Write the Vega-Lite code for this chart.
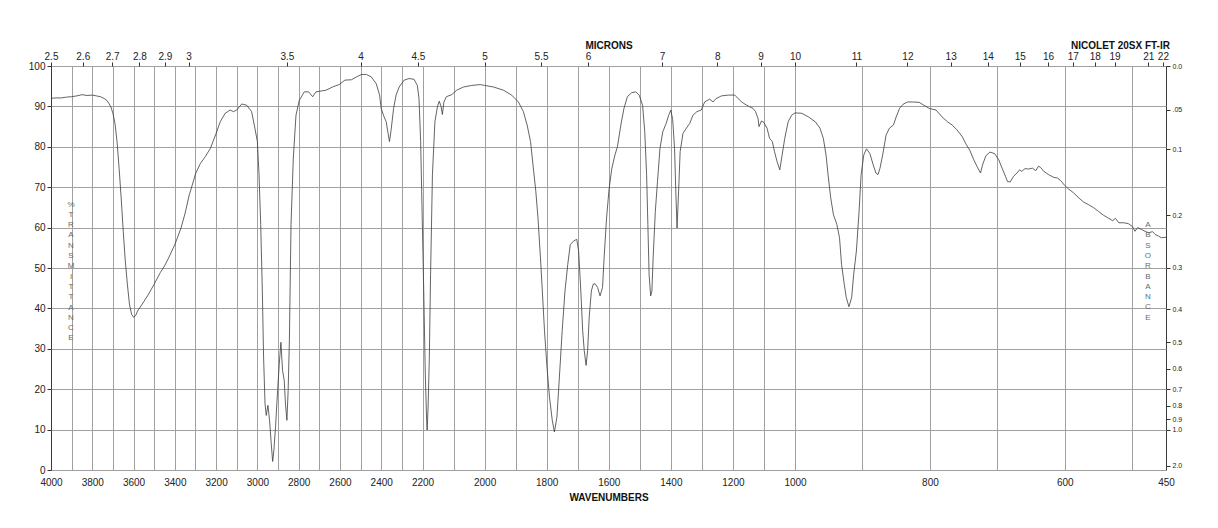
{
 "$schema": "https://vega.github.io/schema/vega-lite/v6.json",
 "width": 1115, "height": 404,
 "autosize": {"type": "none"},
 "padding": {"left": 51, "top": 66, "right": 52, "bottom": 58},
 "background": "white",
 "config": {"view": {"stroke": "#3a3a3a", "strokeWidth": 1}, "font": "Liberation Sans"},
 "data": {"values": [
{"wavenumber":4000,"transmittance":92.0},{"wavenumber":3975,"transmittance":92.1},{"wavenumber":3950,"transmittance":92.1},{"wavenumber":3925,"transmittance":92.3},{"wavenumber":3900,"transmittance":92.4},{"wavenumber":3875,"transmittance":92.6},{"wavenumber":3850,"transmittance":92.9},{"wavenumber":3825,"transmittance":92.7},{"wavenumber":3800,"transmittance":92.8},{"wavenumber":3780,"transmittance":92.6},{"wavenumber":3760,"transmittance":92.4},{"wavenumber":3740,"transmittance":91.9},{"wavenumber":3730,"transmittance":91.5},{"wavenumber":3720,"transmittance":90.8},{"wavenumber":3710,"transmittance":89.9},{"wavenumber":3700,"transmittance":88.3},{"wavenumber":3690,"transmittance":85.8},{"wavenumber":3680,"transmittance":81.3},{"wavenumber":3670,"transmittance":74.7},{"wavenumber":3660,"transmittance":67.3},{"wavenumber":3650,"transmittance":59.1},{"wavenumber":3640,"transmittance":51.7},{"wavenumber":3630,"transmittance":46.0},{"wavenumber":3620,"transmittance":41.1},{"wavenumber":3610,"transmittance":38.6},{"wavenumber":3600,"transmittance":37.8},{"wavenumber":3590,"transmittance":38.2},{"wavenumber":3580,"transmittance":39.4},{"wavenumber":3560,"transmittance":40.9},{"wavenumber":3530,"transmittance":43.3},{"wavenumber":3500,"transmittance":46.0},{"wavenumber":3470,"transmittance":48.9},{"wavenumber":3450,"transmittance":50.5},{"wavenumber":3430,"transmittance":52.5},{"wavenumber":3400,"transmittance":55.8},{"wavenumber":3370,"transmittance":59.9},{"wavenumber":3350,"transmittance":63.6},{"wavenumber":3330,"transmittance":68.1},{"wavenumber":3310,"transmittance":71.5},{"wavenumber":3300,"transmittance":73.3},{"wavenumber":3276,"transmittance":75.9},{"wavenumber":3252,"transmittance":77.6},{"wavenumber":3228,"transmittance":79.6},{"wavenumber":3200,"transmittance":83.3},{"wavenumber":3180,"transmittance":86.2},{"wavenumber":3156,"transmittance":88.3},{"wavenumber":3132,"transmittance":89.1},{"wavenumber":3116,"transmittance":88.7},{"wavenumber":3100,"transmittance":89.1},{"wavenumber":3076,"transmittance":90.6},{"wavenumber":3052,"transmittance":90.3},{"wavenumber":3028,"transmittance":88.7},{"wavenumber":3012,"transmittance":84.6},{"wavenumber":3000,"transmittance":81.3},{"wavenumber":2992,"transmittance":73.1},{"wavenumber":2984,"transmittance":60.8},{"wavenumber":2976,"transmittance":44.3},{"wavenumber":2970,"transmittance":27.9},{"wavenumber":2963,"transmittance":16.4},{"wavenumber":2957,"transmittance":13.5},{"wavenumber":2949,"transmittance":16.0},{"wavenumber":2941,"transmittance":12.3},{"wavenumber":2933,"transmittance":6.6},{"wavenumber":2926,"transmittance":2.1},{"wavenumber":2920,"transmittance":4.9},{"wavenumber":2912,"transmittance":10.7},{"wavenumber":2902,"transmittance":19.7},{"wavenumber":2894,"transmittance":26.3},{"wavenumber":2886,"transmittance":31.6},{"wavenumber":2878,"transmittance":24.6},{"wavenumber":2870,"transmittance":22.2},{"wavenumber":2864,"transmittance":16.4},{"wavenumber":2857,"transmittance":12.3},{"wavenumber":2851,"transmittance":19.7},{"wavenumber":2845,"transmittance":32.0},{"wavenumber":2837,"transmittance":60.8},{"wavenumber":2826,"transmittance":77.2},{"wavenumber":2813,"transmittance":87.8},{"wavenumber":2797,"transmittance":91.5},{"wavenumber":2773,"transmittance":93.6},{"wavenumber":2752,"transmittance":93.6},{"wavenumber":2732,"transmittance":92.4},{"wavenumber":2716,"transmittance":93.6},{"wavenumber":2692,"transmittance":93.8},{"wavenumber":2668,"transmittance":94.0},{"wavenumber":2636,"transmittance":94.8},{"wavenumber":2604,"transmittance":95.4},{"wavenumber":2576,"transmittance":96.5},{"wavenumber":2544,"transmittance":96.6},{"wavenumber":2520,"transmittance":97.3},{"wavenumber":2496,"transmittance":97.9},{"wavenumber":2472,"transmittance":97.9},{"wavenumber":2448,"transmittance":97.3},{"wavenumber":2424,"transmittance":95.6},{"wavenumber":2408,"transmittance":92.8},{"wavenumber":2400,"transmittance":89.5},{"wavenumber":2389,"transmittance":87.8},{"wavenumber":2376,"transmittance":86.2},{"wavenumber":2368,"transmittance":83.7},{"wavenumber":2360,"transmittance":81.3},{"wavenumber":2352,"transmittance":84.2},{"wavenumber":2340,"transmittance":89.5},{"wavenumber":2328,"transmittance":92.8},{"wavenumber":2313,"transmittance":94.8},{"wavenumber":2289,"transmittance":96.5},{"wavenumber":2265,"transmittance":96.9},{"wavenumber":2241,"transmittance":96.7},{"wavenumber":2225,"transmittance":95.2},{"wavenumber":2217,"transmittance":92.0},{"wavenumber":2209,"transmittance":81.3},{"wavenumber":2204,"transmittance":69.0},{"wavenumber":2196,"transmittance":44.3},{"wavenumber":2191,"transmittance":23.8},{"wavenumber":2187,"transmittance":13.1},{"wavenumber":2185,"transmittance":9.9},{"wavenumber":2182,"transmittance":15.6},{"wavenumber":2178,"transmittance":27.9},{"wavenumber":2174,"transmittance":48.4},{"wavenumber":2168,"transmittance":73.1},{"wavenumber":2160,"transmittance":86.2},{"wavenumber":2152,"transmittance":89.9},{"wavenumber":2146,"transmittance":91.3},{"wavenumber":2140,"transmittance":89.9},{"wavenumber":2136,"transmittance":88.0},{"wavenumber":2131,"transmittance":91.1},{"wavenumber":2123,"transmittance":92.4},{"wavenumber":2106,"transmittance":92.9},{"wavenumber":2090,"transmittance":94.0},{"wavenumber":2068,"transmittance":94.8},{"wavenumber":2041,"transmittance":95.2},{"wavenumber":2014,"transmittance":95.4},{"wavenumber":2000,"transmittance":95.2},{"wavenumber":1971,"transmittance":94.8},{"wavenumber":1939,"transmittance":94.0},{"wavenumber":1913,"transmittance":92.8},{"wavenumber":1891,"transmittance":91.1},{"wavenumber":1875,"transmittance":88.7},{"wavenumber":1863,"transmittance":85.4},{"wavenumber":1852,"transmittance":81.3},{"wavenumber":1844,"transmittance":75.5},{"wavenumber":1835,"transmittance":69.0},{"wavenumber":1828,"transmittance":62.4},{"wavenumber":1820,"transmittance":52.5},{"wavenumber":1814,"transmittance":44.3},{"wavenumber":1807,"transmittance":34.5},{"wavenumber":1799,"transmittance":25.5},{"wavenumber":1791,"transmittance":18.1},{"wavenumber":1782,"transmittance":12.3},{"wavenumber":1775,"transmittance":9.4},{"wavenumber":1767,"transmittance":13.1},{"wavenumber":1759,"transmittance":23.0},{"wavenumber":1750,"transmittance":34.5},{"wavenumber":1741,"transmittance":44.3},{"wavenumber":1732,"transmittance":50.9},{"wavenumber":1724,"transmittance":55.8},{"wavenumber":1713,"transmittance":56.7},{"wavenumber":1703,"transmittance":57.1},{"wavenumber":1697,"transmittance":54.2},{"wavenumber":1690,"transmittance":44.3},{"wavenumber":1684,"transmittance":34.5},{"wavenumber":1679,"transmittance":29.6},{"wavenumber":1673,"transmittance":25.9},{"wavenumber":1668,"transmittance":29.6},{"wavenumber":1663,"transmittance":37.8},{"wavenumber":1656,"transmittance":44.3},{"wavenumber":1650,"transmittance":46.0},{"wavenumber":1644,"transmittance":46.1},{"wavenumber":1636,"transmittance":45.2},{"wavenumber":1628,"transmittance":43.1},{"wavenumber":1620,"transmittance":45.2},{"wavenumber":1615,"transmittance":52.5},{"wavenumber":1607,"transmittance":62.4},{"wavenumber":1599,"transmittance":69.5},{"wavenumber":1590,"transmittance":74.7},{"wavenumber":1580,"transmittance":78.0},{"wavenumber":1572,"transmittance":80.0},{"wavenumber":1561,"transmittance":85.4},{"wavenumber":1551,"transmittance":89.5},{"wavenumber":1540,"transmittance":92.4},{"wavenumber":1526,"transmittance":93.4},{"wavenumber":1513,"transmittance":93.6},{"wavenumber":1502,"transmittance":92.8},{"wavenumber":1491,"transmittance":90.3},{"wavenumber":1484,"transmittance":83.7},{"wavenumber":1478,"transmittance":73.1},{"wavenumber":1474,"transmittance":60.8},{"wavenumber":1470,"transmittance":48.4},{"wavenumber":1465,"transmittance":43.1},{"wavenumber":1461,"transmittance":44.3},{"wavenumber":1457,"transmittance":52.5},{"wavenumber":1450,"transmittance":64.0},{"wavenumber":1443,"transmittance":71.4},{"wavenumber":1435,"transmittance":79.6},{"wavenumber":1426,"transmittance":83.7},{"wavenumber":1415,"transmittance":85.8},{"wavenumber":1407,"transmittance":87.8},{"wavenumber":1400,"transmittance":89.1},{"wavenumber":1394,"transmittance":86.7},{"wavenumber":1388,"transmittance":79.6},{"wavenumber":1384,"transmittance":69.0},{"wavenumber":1380,"transmittance":59.9},{"wavenumber":1375,"transmittance":69.0},{"wavenumber":1370,"transmittance":78.8},{"wavenumber":1361,"transmittance":83.3},{"wavenumber":1350,"transmittance":84.6},{"wavenumber":1339,"transmittance":85.8},{"wavenumber":1329,"transmittance":87.8},{"wavenumber":1316,"transmittance":88.7},{"wavenumber":1302,"transmittance":89.1},{"wavenumber":1291,"transmittance":91.1},{"wavenumber":1275,"transmittance":91.8},{"wavenumber":1264,"transmittance":91.1},{"wavenumber":1255,"transmittance":91.9},{"wavenumber":1237,"transmittance":92.6},{"wavenumber":1215,"transmittance":92.8},{"wavenumber":1194,"transmittance":92.8},{"wavenumber":1172,"transmittance":91.1},{"wavenumber":1156,"transmittance":90.3},{"wavenumber":1146,"transmittance":89.9},{"wavenumber":1135,"transmittance":89.5},{"wavenumber":1127,"transmittance":88.7},{"wavenumber":1119,"transmittance":87.0},{"wavenumber":1116,"transmittance":85.0},{"wavenumber":1108,"transmittance":86.4},{"wavenumber":1100,"transmittance":86.0},{"wavenumber":1090,"transmittance":84.6},{"wavenumber":1082,"transmittance":82.1},{"wavenumber":1073,"transmittance":81.3},{"wavenumber":1066,"transmittance":78.8},{"wavenumber":1058,"transmittance":76.4},{"wavenumber":1049,"transmittance":74.3},{"wavenumber":1043,"transmittance":77.2},{"wavenumber":1033,"transmittance":82.1},{"wavenumber":1022,"transmittance":86.2},{"wavenumber":1011,"transmittance":87.8},{"wavenumber":1000,"transmittance":88.4},{"wavenumber":990,"transmittance":88.3},{"wavenumber":980,"transmittance":87.4},{"wavenumber":970,"transmittance":86.2},{"wavenumber":963,"transmittance":84.6},{"wavenumber":958,"transmittance":82.1},{"wavenumber":954,"transmittance":78.0},{"wavenumber":951,"transmittance":73.1},{"wavenumber":947,"transmittance":67.3},{"wavenumber":943,"transmittance":63.2},{"wavenumber":938,"transmittance":60.8},{"wavenumber":934,"transmittance":57.5},{"wavenumber":931,"transmittance":50.9},{"wavenumber":927,"transmittance":46.0},{"wavenumber":924,"transmittance":42.7},{"wavenumber":920,"transmittance":40.4},{"wavenumber":916,"transmittance":42.7},{"wavenumber":913,"transmittance":48.4},{"wavenumber":909,"transmittance":54.2},{"wavenumber":905,"transmittance":64.0},{"wavenumber":902,"transmittance":73.1},{"wavenumber":898,"transmittance":78.0},{"wavenumber":894,"transmittance":79.5},{"wavenumber":889,"transmittance":78.3},{"wavenumber":884,"transmittance":75.5},{"wavenumber":880,"transmittance":73.5},{"wavenumber":877,"transmittance":73.1},{"wavenumber":874,"transmittance":74.7},{"wavenumber":870,"transmittance":78.0},{"wavenumber":865,"transmittance":82.9},{"wavenumber":860,"transmittance":84.6},{"wavenumber":854,"transmittance":85.4},{"wavenumber":850,"transmittance":87.4},{"wavenumber":845,"transmittance":89.5},{"wavenumber":840,"transmittance":90.5},{"wavenumber":833,"transmittance":91.1},{"wavenumber":826,"transmittance":91.1},{"wavenumber":816,"transmittance":91.0},{"wavenumber":809,"transmittance":90.3},{"wavenumber":801,"transmittance":89.5},{"wavenumber":791,"transmittance":89.1},{"wavenumber":782,"transmittance":87.4},{"wavenumber":774,"transmittance":86.2},{"wavenumber":767,"transmittance":85.4},{"wavenumber":760,"transmittance":84.2},{"wavenumber":752,"transmittance":82.5},{"wavenumber":746,"transmittance":80.5},{"wavenumber":741,"transmittance":79.2},{"wavenumber":735,"transmittance":76.8},{"wavenumber":730,"transmittance":75.1},{"wavenumber":725,"transmittance":73.5},{"wavenumber":722,"transmittance":75.5},{"wavenumber":717,"transmittance":77.8},{"wavenumber":711,"transmittance":78.7},{"wavenumber":704,"transmittance":78.3},{"wavenumber":698,"transmittance":76.8},{"wavenumber":693,"transmittance":74.7},{"wavenumber":688,"transmittance":72.7},{"wavenumber":685,"transmittance":71.4},{"wavenumber":681,"transmittance":71.3},{"wavenumber":676,"transmittance":72.7},{"wavenumber":671,"transmittance":73.5},{"wavenumber":667,"transmittance":74.3},{"wavenumber":664,"transmittance":73.9},{"wavenumber":659,"transmittance":74.6},{"wavenumber":654,"transmittance":74.5},{"wavenumber":648,"transmittance":74.7},{"wavenumber":643,"transmittance":74.1},{"wavenumber":639,"transmittance":75.2},{"wavenumber":636,"transmittance":74.9},{"wavenumber":631,"transmittance":73.9},{"wavenumber":624,"transmittance":73.1},{"wavenumber":616,"transmittance":72.4},{"wavenumber":611,"transmittance":72.3},{"wavenumber":606,"transmittance":71.6},{"wavenumber":600,"transmittance":70.4},{"wavenumber":594,"transmittance":69.5},{"wavenumber":587,"transmittance":68.6},{"wavenumber":579,"transmittance":67.3},{"wavenumber":572,"transmittance":66.3},{"wavenumber":565,"transmittance":65.7},{"wavenumber":557,"transmittance":64.9},{"wavenumber":550,"transmittance":64.0},{"wavenumber":543,"transmittance":63.1},{"wavenumber":535,"transmittance":62.3},{"wavenumber":529,"transmittance":61.7},{"wavenumber":525,"transmittance":62.3},{"wavenumber":520,"transmittance":61.2},{"wavenumber":513,"transmittance":61.2},{"wavenumber":506,"transmittance":61.0},{"wavenumber":500,"transmittance":60.3},{"wavenumber":496,"transmittance":59.1},{"wavenumber":492,"transmittance":60.0},{"wavenumber":486,"transmittance":59.5},{"wavenumber":481,"transmittance":59.1},{"wavenumber":476,"transmittance":58.7},{"wavenumber":470,"transmittance":59.0},{"wavenumber":466,"transmittance":58.3},{"wavenumber":461,"transmittance":57.9},{"wavenumber":457,"transmittance":57.5},{"wavenumber":450,"transmittance":57.6}
 ]},
 "layer": [
  {
   "mark": {"type": "line", "color": "#3c3c3c", "strokeWidth": 0.8},
   "encoding": {
    "x": {"field": "wavenumber", "type": "quantitative",
     "scale": {"domain": [4000, 2200, 1000, 450], "range": [0, 371.5, 744, 1115], "zero": false, "nice": false},
     "axis": {"orient": "bottom", "values": [4000,3800,3600,3400,3200,3000,2800,2600,2400,2200,2000,1800,1600,1400,1200,1000,800,600,450],
      "format": "d",
      "grid": false, "ticks": false, "domain": false, "labelFontSize": 10, "labelPadding": 7, "labelColor": "#222",
      "labelFlush": false, "labelOverlap": false,
      "title": "WAVENUMBERS", "titleFontSize": 10, "titleFontWeight": "bold", "titleColor": "#111",
      "titleY": 30, "titleBaseline": "alphabetic", "zindex": 1}},
    "y": {"field": "transmittance", "type": "quantitative",
     "scale": {"domain": [0, 100], "zero": false, "nice": false},
     "axis": {"orient": "left", "values": [0,10,20,30,40,50,60,70,80,90,100],
      "grid": true, "gridColor": "#a0a0a0", "gridWidth": 1, "domain": false, "tickSize": 4, "tickColor": "#333",
      "labelFontSize": 10, "labelPadding": 2, "labelColor": "#222", "labelFlush": false, "labelOverlap": false,
      "title": ["%","T","R","A","N","S","M","I","T","T","A","N","C","E"],
      "titleAngle": 0, "titleX": 19.5, "titleY": 134, "titleAlign": "center", "titleBaseline": "top",
      "titleFontSize": 8, "titleFontWeight": "normal", "titleColor": "#6a6a6a", "titleLineHeight": 10.3, "zindex": 0}}
   }
  },
  {
   "mark": {"type": "line", "opacity": 0},
   "encoding": {
    "x": {"field": "wavenumber", "type": "quantitative",
     "scale": {"domain": [4000, 2200, 1000, 450], "range": [0, 371.5, 744, 1115], "zero": false, "nice": false},
     "axis": {"orient": "top", "values": [4000,3846.154,3703.704,3571.429,3448.276,3333.333,2857.143,2500,2222.222,2000,1818.182,1666.667,1428.571,1250,1111.111,1000,909.091,833.333,769.231,714.286,666.667,625,588.235,555.556,526.316,476.190,454.545],
      "labelExpr": "'' + round(100000 / datum.value) / 10",
      "grid": false, "domain": false, "tickSize": 4, "tickColor": "#333", "labelFontSize": 10, "labelPadding": 1, "labelColor": "#222",
      "labelFlush": false, "labelOverlap": false,
      "title": "MICRONS", "titleFontSize": 10, "titleFontWeight": "bold", "titleColor": "#111",
      "titleY": -17.3, "titleBaseline": "alphabetic", "zindex": 1}},
    "y": {"field": "transmittance", "type": "quantitative",
     "scale": {"domain": [0, 100], "zero": false, "nice": false},
     "axis": {"orient": "right", "values": [100, 89.125, 79.433, 63.096, 50.119, 39.811, 31.623, 25.119, 19.953, 15.849, 12.589, 10, 1],
      "labelExpr": "abs(log(datum.value/100)/LN10) > 0.03 && abs(log(datum.value/100)/LN10) < 0.07 ? '.05' : format(abs(log(datum.value/100)/LN10), '.1f')",
      "grid": false, "domain": false, "tickSize": 4, "tickColor": "#333", "labelFontSize": 7, "labelPadding": 2, "labelColor": "#222",
      "labelFlush": false, "labelOverlap": false,
      "title": ["A","B","S","O","R","B","A","N","C","E"],
      "titleAngle": 0, "titleX": -18.7, "titleY": 154.5, "titleAlign": "center", "titleBaseline": "top",
      "titleFontSize": 8, "titleFontWeight": "normal", "titleColor": "#6a6a6a", "titleLineHeight": 10.3, "zindex": 1}}
   }
  },
  {
   "mark": {"type": "line", "opacity": 0},
   "encoding": {
    "x": {"field": "wavenumber", "type": "quantitative",
     "scale": {"domain": [4000, 2200, 1000, 450], "range": [0, 371.5, 744, 1115], "zero": false, "nice": false},
     "axis": {"orient": "top", "values": [3900,3800,3700,3600,3500,3400,3300,3200,3100,3000,2900,2800,2700,2600,2500,2400,2300,2200,2100,2000,1900,1800,1700,1600,1500,1400,1300,1200,1100,1000,900,800,700,600,500],
      "grid": true, "gridColor": "#a0a0a0", "gridWidth": 1, "labels": false, "ticks": false, "domain": false,
      "title": "NICOLET 20SX FT-IR", "titleFontSize": 10, "titleFontWeight": "bold", "titleColor": "#111",
      "titleX": 1069, "titleY": -17.3, "titleAlign": "center", "titleBaseline": "alphabetic", "zindex": 0}},
    "y": {"field": "transmittance", "type": "quantitative",
     "scale": {"domain": [0, 100], "zero": false, "nice": false}, "axis": null}
   }
  }
 ],
 "resolve": {"axis": {"x": "independent", "y": "independent"}}
}
